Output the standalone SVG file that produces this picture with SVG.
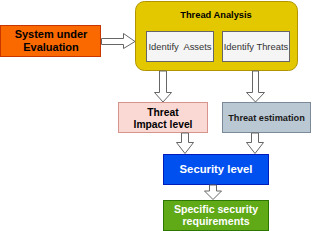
<svg xmlns="http://www.w3.org/2000/svg" width="312" height="231" viewBox="0 0 312 231">
<style>
text{font-family:"Liberation Sans",Arial,sans-serif;font-weight:bold;text-anchor:middle}
.arr{fill:#ffffff;stroke:#666666;stroke-width:1}
.n{font-weight:normal}
</style>
<rect width="312" height="231" fill="#ffffff"/>
<g id="system">
<rect x="0.5" y="25.5" width="100" height="31" fill="#fa6800" stroke="#c73500"/>
<text x="51" y="38" font-size="11" fill="#000">System under</text>
<text x="51" y="51" font-size="11" fill="#000">Evaluation</text>
</g>
<g id="thread-analysis">
<rect x="135.5" y="1.5" width="162" height="69" rx="9" fill="#e3c800" stroke="#b09500"/>
<text x="216" y="18" font-size="9.3" fill="#000">Thread Analysis</text>
</g>
<g id="identify-assets">
<rect x="146.5" y="31.5" width="67" height="30" fill="#f5f5f5" stroke="#666666"/>
<text x="180" y="49.5" font-size="9.4" class="n" fill="#333" xml:space="preserve">Identify  Assets</text>
</g>
<g id="identify-threats">
<rect x="222.5" y="31.5" width="67" height="30" fill="#f5f5f5" stroke="#666666"/>
<text x="256" y="49.5" font-size="9.4" class="n" fill="#333">Identify Threats</text>
</g>
<g id="threat-impact">
<rect x="118.5" y="102.5" width="89" height="30" fill="#fad9d5" stroke="#d7948c"/>
<text x="163" y="116" font-size="10.3" fill="#000">Threat</text>
<text x="163" y="127.5" font-size="10.3" fill="#000">Impact level</text>
</g>
<g id="threat-estimation">
<rect x="222.5" y="102.5" width="88" height="30" fill="#bac8d3" stroke="#7a8a98"/>
<text x="266.5" y="120.5" font-size="9.2" fill="#1a1a1a">Threat estimation</text>
</g>
<g id="security-level">
<rect x="163.5" y="154.5" width="105" height="30" fill="#0050ef" stroke="#001dbc"/>
<text x="216" y="173" font-size="11.3" fill="#ffffff">Security level</text>
</g>
<g id="requirements">
<rect x="163.5" y="200.5" width="105" height="30" fill="#60a917" stroke="#2d7600"/>
<text x="216" y="213" font-size="10.6" fill="#ffffff">Specific security</text>
<text x="216" y="224.5" font-size="10.6" fill="#ffffff">requirements</text>
</g>
<g id="connectors">
<path class="arr" d="M101.5,38.5 H123.5 V33.5 L135,41.5 L123.5,48.5 V44.5 H101.5 Z"/>
<path class="arr" d="M159.5,71 V92.5 H154.5 L163,102 L171.5,92.5 H166.5 V71 Z"/>
<path class="arr" d="M252.5,71 V92.5 H246.5 L255.5,102 L264.5,92.5 H258.5 V71 Z"/>
<path class="arr" d="M181.5,133 V142.5 H176.5 L185,153.5 L193.5,142.5 H188.5 V133 Z"/>
<path class="arr" d="M251.5,133 V142.5 H246.5 L255,153.5 L263.5,142.5 H258.5 V133 Z"/>
<path class="arr" d="M209.5,185 V191 H204.5 L213,199.5 L221.5,191 H216.5 V185 Z"/>
</g>
</svg>
